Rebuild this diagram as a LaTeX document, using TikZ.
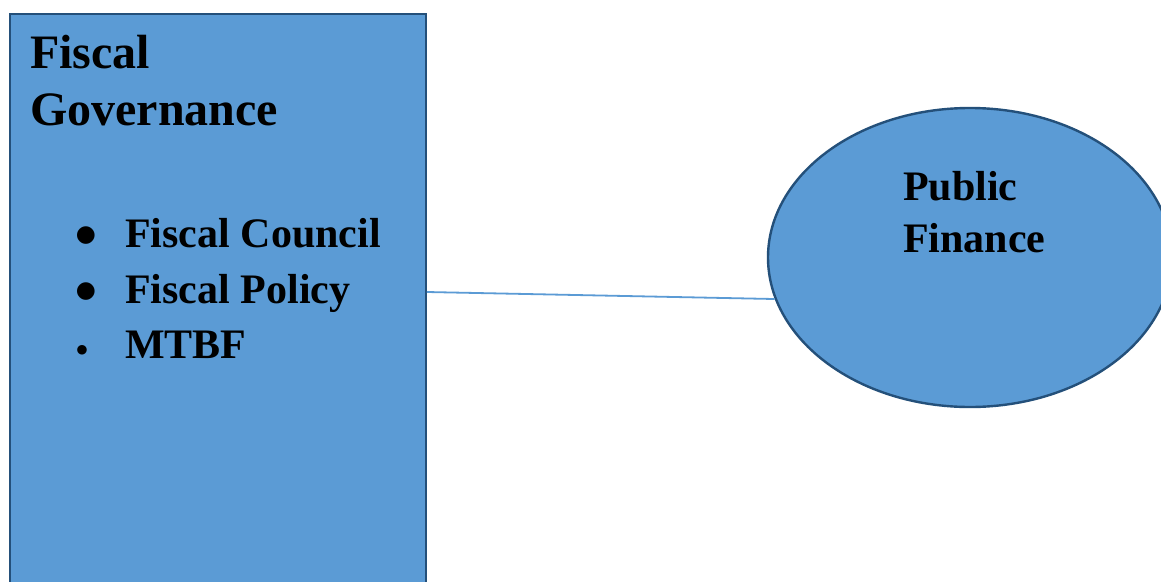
\documentclass[tikz,border=0pt]{standalone}
\usepackage{fontspec}
\setmainfont{Liberation Serif}
\newfontfamily\symfont{DejaVu Sans}
\usetikzlibrary{shapes.geometric}
\definecolor{boxfill}{HTML}{5B9BD5}
\definecolor{boxline}{HTML}{24507A}
\definecolor{linkline}{HTML}{5B9BD5}
\begin{document}
\begin{tikzpicture}[x=1pt,y=-1pt,
  shapebox/.style={draw=boxline,fill=boxfill,line width=2.4pt,inner sep=0pt},
  title/.style={anchor=base west,inner sep=0pt,font=\fontsize{48}{57}\selectfont\bfseries},
  item/.style={anchor=base west,inner sep=0pt,font=\fontsize{42}{50}\selectfont\bfseries},
  dot/.style={anchor=center,inner sep=0pt,font=\symfont\fontsize{23}{25}\selectfont},
  link/.style={draw=linkline,line width=1.8pt}]
\useasboundingbox (0,0) rectangle (1161,581);
\clip (0,0) rectangle (1161,581);
\fill[white] (0,0) rectangle (1161,581);
% left box
\node[shapebox,rectangle,minimum width=416pt,minimum height=640pt,anchor=north west] (gov) at (8.5,12.5) {};
\node[title] (t1) at (30,68) {Fiscal};
\node[title] (t2) at (30,125) {Governance};
\node[dot] (b1) at (86,236) {●};
\node[dot] (b2) at (86,292) {●};
\node[dot,font=\symfont\fontsize{12.5}{14}\selectfont] (b3) at (82,350) {●};
\node[item] (i1) at (125,247) {Fiscal Council};
\node[item] (i2) at (125,303) {Fiscal Policy};
\node[item] (i3) at (125,358) {MTBF};
% ellipse
\node[shapebox,ellipse,minimum width=404pt,minimum height=299pt] (pf) at (970,257.5) {};
\node[item] (p1) at (903,200) {Public};
\node[item] (p2) at (903,252) {Finance};
% connector
\coordinate (gs) at (gov.north east |- 0,292);
\draw[link] (gs) -- (pf.192);
\end{tikzpicture}
\end{document}
